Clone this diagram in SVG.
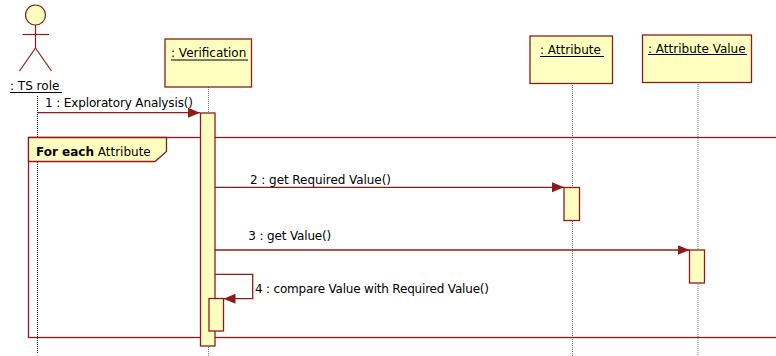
<svg xmlns="http://www.w3.org/2000/svg" width="776" height="356" viewBox="0 0 776 356">
<style>
  text { font-family: "DejaVu Sans", Verdana, sans-serif; font-size: 12px; fill: #000; }
  .box { fill: #FFFFC0; stroke: #8E1B1B; stroke-width: 1.3; }
  .act { fill: #FFFFC0; stroke: #8E1B1B; stroke-width: 1.3; }
  .life { stroke: #7A7A7A; stroke-width: 1; stroke-dasharray: 1 1; fill: none; }
  .lifeD { stroke: #222; stroke-width: 1; stroke-dasharray: 1 1; fill: none; }
  .ul { stroke: #000; stroke-width: 1; }
  .msg { stroke: #8E1B1B; stroke-width: 1.3; fill: none; marker-end: url(#arr); }
  .frame { fill: none; stroke: #8E1B1B; stroke-width: 1.3; }
  .actor { stroke: #8E1B1B; stroke-width: 1.2; fill: none; }
</style>
<defs>
  <marker id="arr" markerUnits="userSpaceOnUse" markerWidth="13" markerHeight="11" refX="12" refY="5" orient="auto">
    <path d="M0,0 L12,5 L0,10 Z" fill="#8E1B1B"/>
  </marker>
</defs>
<rect width="776" height="356" fill="#fff"/>

<g id="lifelines">
  <line class="lifeD" x1="37.5" y1="96" x2="37.5" y2="353"/>
  <line class="life" x1="208.5" y1="87" x2="208.5" y2="356"/>
  <line class="life" x1="572.5" y1="83" x2="572.5" y2="356"/>
  <line class="life" x1="698" y1="82" x2="698" y2="356"/>
</g>

<g id="frame-loop">
  <rect class="frame" x="28.5" y="137.5" width="770" height="200"/>
  <path d="M28.5,137.5 L166.5,137.5 L166.5,151.5 L155,161.5 L28.5,161.5 Z" fill="#FFFFC0" stroke="#8E1B1B" stroke-width="1.3"/>
  <text x="36" y="155.5"><tspan font-weight="bold">For each</tspan> Attribute</text>
</g>

<g id="actor-ts-role">
  <circle cx="35.5" cy="15" r="10" fill="#FFFFC0" stroke="#8E1B1B" stroke-width="1.2"/>
  <line class="actor" x1="35.5" y1="25" x2="35.5" y2="48"/>
  <line class="actor" x1="22.5" y1="34.5" x2="49" y2="34.5"/>
  <line class="actor" x1="35.5" y1="48" x2="19.5" y2="71"/>
  <line class="actor" x1="35.5" y1="48" x2="51.5" y2="71"/>
  <text x="10" y="90">: TS role</text>
  <line class="ul" x1="10" y1="92.5" x2="62" y2="92.5"/>
</g>

<g id="obj-verification">
  <rect class="box" x="165" y="39" width="86.5" height="48"/>
  <text x="171" y="57">: Verification</text>
  <line class="ul" x1="171" y1="60" x2="248" y2="60"/>
</g>

<g id="obj-attribute">
  <rect class="box" x="530" y="36" width="82.5" height="47.5"/>
  <text x="540" y="54">: Attribute</text>
  <line class="ul" x1="540" y1="56.5" x2="604" y2="56.5"/>
</g>

<g id="obj-attribute-value">
  <rect class="box" x="642.5" y="35" width="109" height="47.5"/>
  <text x="648" y="52.5">: Attribute Value</text>
  <line class="ul" x1="648" y1="54.5" x2="747" y2="54.5"/>
</g>

<g id="activations">
  <rect class="act" x="200.5" y="113" width="14.5" height="233"/>
  <rect class="act" x="209" y="298.5" width="14.5" height="32.5"/>
  <rect class="act" x="564" y="187.5" width="15.5" height="33"/>
  <rect class="act" x="689.5" y="250" width="15" height="33"/>
</g>

<g id="connectors">
  <line class="msg" x1="37.5" y1="112.7" x2="200" y2="112.7"/>
  <line class="msg" x1="215" y1="187.3" x2="564" y2="187.3"/>
  <line class="msg" x1="215" y1="250" x2="689.5" y2="250"/>
  <polyline class="msg" points="215,274.3 252.7,274.3 252.7,298.7 223.5,298.7"/>
  <text x="45" y="106.5" textLength="148">1 : Exploratory Analysis()</text>
  <text x="250" y="184" textLength="141">2 : get Required Value()</text>
  <text x="248.3" y="240" textLength="83">3 : get Value()</text>
  <text x="255" y="292.5" textLength="234">4 : compare Value with Required Value()</text>
</g>
</svg>
